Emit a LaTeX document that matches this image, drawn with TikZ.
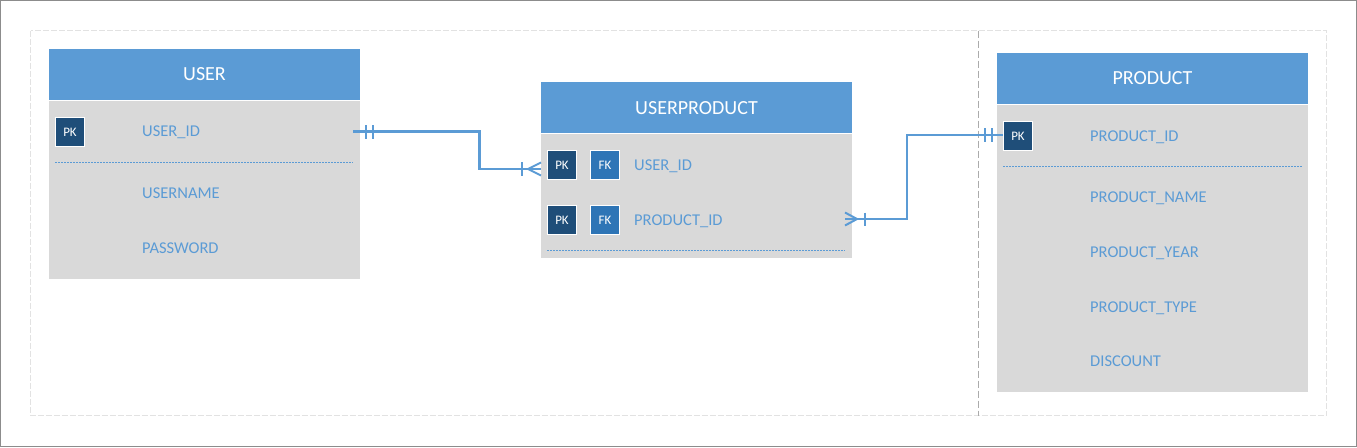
\documentclass[tikz,border=0pt]{standalone}
\usepackage{fontspec}
\setmainfont{Carlito}
\definecolor{hdr}{HTML}{5B9BD5}
\definecolor{bdy}{HTML}{D9D9D9}
\definecolor{pkc}{HTML}{1F4E79}
\definecolor{fkc}{HTML}{2E75B6}
\definecolor{fld}{HTML}{5B9BD5}
\definecolor{lnk}{HTML}{5B9BD5}
\definecolor{framec}{HTML}{8C8C8C}
\definecolor{innerc}{HTML}{E2E2E2}
\definecolor{dividerc}{HTML}{ABABAB}
\begin{document}
\begin{tikzpicture}[x=1pt,y=-1pt,
  hdrbox/.style={fill=hdr, draw=none, minimum width=311pt, minimum height=51pt, inner sep=0pt, anchor=north west},
  bodybox/.style={fill=bdy, draw=none, minimum width=311pt, inner sep=0pt, anchor=north west},
  title/.style={text=white, font=\fontsize{20}{24}\selectfont, anchor=base, inner sep=0pt},
  field/.style={text=fld, font=\fontsize{16.5}{20}\selectfont, anchor=base west, inner sep=0pt},
  pkbox/.style={fill=pkc, draw=white, line width=1pt, minimum size=29pt, inner sep=0pt, text=white, font=\fontsize{13}{15}\selectfont},
  fkbox/.style={pkbox, fill=fkc},
  sepline/.style={draw=fld, line width=1pt, dash pattern=on 2pt off 1pt},
  link/.style={draw=lnk, line width=2.2pt, line join=miter},
  tick/.style={draw=lnk, line width=2pt}
]
\useasboundingbox (0,0) rectangle (1357,447);
\draw[framec, line width=1pt] (0.5,0.5) rectangle (1356.5,446.5);
\draw[innerc, line width=1pt, dash pattern=on 6pt off 2pt] (30.5,30.5) rectangle (1326.5,415.5);
\draw[dividerc, line width=1pt, dash pattern=on 7pt off 3pt] (978.5,30.5) -- (978.5,415.5);

% USER
\node[hdrbox] (userhdr) at (49,49) {};
\node[bodybox, minimum height=178pt] (userbody) at (49,101) {};
\node[title] (usert) at (204.5,80) {USER};
\node[pkbox] (userpk) at (70,132) {PK};
\node[field] (uf1) at (142,136) {USER\_ID};
\node[field] (uf2) at (142,198) {USERNAME};
\node[field] (uf3) at (142,253) {PASSWORD};
\draw[sepline] (55,162.5) -- (353,162.5);

% USERPRODUCT
\node[hdrbox] (uphdr) at (541,82) {};
\node[bodybox, minimum height=124pt] (upbody) at (541,134) {};
\node[title] (upt) at (696.5,114) {USERPRODUCT};
\node[pkbox] (uppk1) at (562,165) {PK};
\node[fkbox] (upfk1) at (605,165) {FK};
\node[pkbox] (uppk2) at (562,220) {PK};
\node[fkbox] (upfk2) at (605,220) {FK};
\node[field] (upf1) at (634,170) {USER\_ID};
\node[field] (upf2) at (634,225) {PRODUCT\_ID};
\draw[sepline] (547,250.5) -- (845,250.5);

% PRODUCT
\node[hdrbox] (phdr) at (997,53) {};
\node[bodybox, minimum height=287pt] (pbody) at (997,105) {};
\node[title] (pt) at (1152.5,84) {PRODUCT};
\node[pkbox] (ppk) at (1018,136) {PK};
\node[field] (pf1) at (1090,141.5) {PRODUCT\_ID};
\node[field] (pf2) at (1090,202.5) {PRODUCT\_NAME};
\node[field] (pf3) at (1090,257.5) {PRODUCT\_YEAR};
\node[field] (pf4) at (1090,312.5) {PRODUCT\_TYPE};
\node[field] (pf5) at (1090,366.5) {DISCOUNT};
\draw[sepline] (1003,166.5) -- (1302,166.5);

% connector USER -> USERPRODUCT
\coordinate (c1s) at (353,131.5);
\coordinate (c1e) at (541,169);
\draw[link] (c1s) -- (479.5,131.5) -- (479.5,169) -- (c1e);
\draw[tick] (366,125) -- (366,139);
\draw[tick] (372.5,125) -- (372.5,139);
\draw[tick] (522,162) -- (522,176);
\draw[tick] (541,162.5) -- (528,169) -- (541,175.5);

% connector USERPRODUCT -> PRODUCT
\coordinate (c2s) at (845,219);
\coordinate (c2e) at (1003,135);
\draw[link] (c2s) -- (907,219) -- (907,135) -- (c2e);
\draw[tick] (845,212.5) -- (857,219) -- (845,225.5);
\draw[tick] (864.5,212.5) -- (864.5,226);
\draw[tick] (985,128) -- (985,142);
\draw[tick] (991.5,128) -- (991.5,142);
\end{tikzpicture}
\end{document}
